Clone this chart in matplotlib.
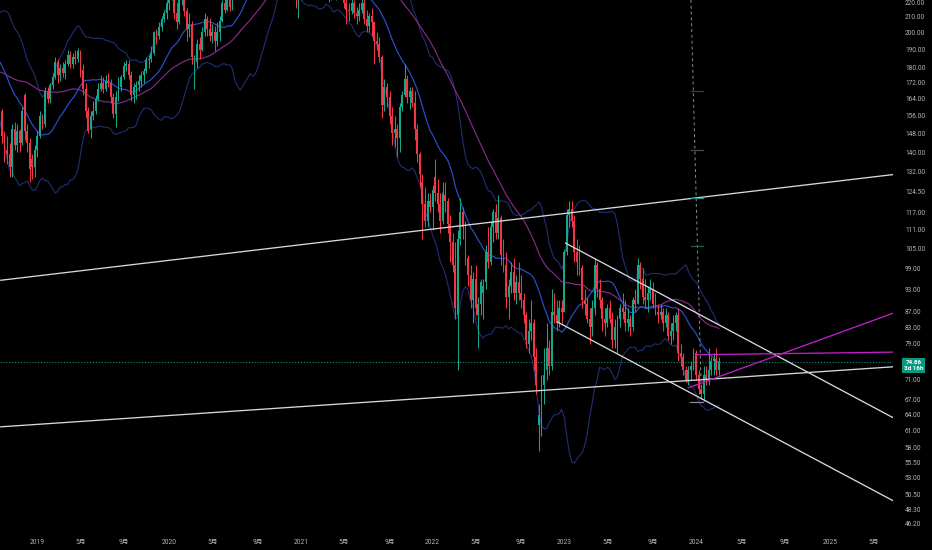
import numpy as np
import pandas as pd
import matplotlib
matplotlib.use("Agg")
import matplotlib.pyplot as plt
import matplotlib.dates as mdates
from matplotlib.ticker import FixedLocator, NullLocator, FuncFormatter
from matplotlib.transforms import blended_transform_factory, offset_copy

plt.rcParams['font.family'] = ['Roboto', 'Noto Sans CJK SC', 'DejaVu Sans']

# ---------------- data (weekly candles, Sep 2018 .. Mar 2024) ----------------
# weekly closes before the visible window (used only for the moving averages)
pre_closes = [166, 162, 163, 166, 170, 170, 172, 176, 178, 177, 180, 170, 164, 165, 164, 162,
              174, 175, 182, 193, 180, 168, 177, 178, 175, 183, 181, 177, 173, 168, 170, 168,
              162, 170, 190, 196, 200, 199, 205, 205, 196, 185, 186, 190, 190, 189, 180, 176,
              172, 177, 175, 165]

opens = [
    # 2018
    157, 160, 165, 158, 147, 141, 139, 134, 150, 143, 149, 144, 166, 149, 144, 137, 134,
    # 2019
    141, 147, 156, 152, 168, 164, 171, 175, 183, 176, 180, 177, 182, 187, 182, 186, 185,
    189, 179, 169, 158, 150, 156, 158, 164, 169, 172, 169, 173, 172, 165, 157, 165, 170,
    175, 181, 182, 176, 166, 170, 171, 173, 176, 178, 184, 185, 188, 200, 198, 203, 208, 212,
    # 2020
    218, 222, 226, 212, 206, 220, 222, 213, 202, 205, 178, 183, 193, 190, 200, 208, 202,
    198, 200, 195, 200, 207, 218, 214, 222, 216, 236, 256, 250, 253, 251, 258, 255, 266, 288,
    272, 268, 262, 278, 294, 300, 308, 300, 305, 285, 260, 262, 275, 262, 255, 256, 222,
    # 2021
    232, 228, 240, 258, 254, 272, 262, 258, 238, 235, 238, 230, 226, 230, 225, 240, 235,
    231, 218, 214, 213, 218, 212, 210, 214, 218, 208, 204, 210, 206, 195, 193, 186, 161, 170,
    165, 156, 148, 150, 146, 160, 166, 174, 165, 168, 162, 150, 139, 128, 120, 114, 121,
    # 2022
    119, 130, 124, 120, 114, 123, 121, 113, 107, 100, 86, 108, 117, 112, 102, 97, 90,
    96, 86, 89, 92, 95, 104, 101, 112, 117, 110, 115, 103, 100, 91, 94, 98, 92, 95,
    92, 90, 86, 79, 82, 84, 76, 62, 64, 70, 73, 78, 74, 87, 86, 84, 88,
    # 2023
    87, 104, 116, 118, 114, 104, 101, 99, 90, 89, 85, 83, 88, 100, 93, 90, 85,
    84, 88, 85, 80, 83, 85, 88, 87, 84, 85, 83, 90, 89, 100, 96, 91, 90, 92,
    93, 89, 87, 86, 87, 84, 86, 81, 82, 84, 86, 77, 76, 73, 71, 73, 74,
    # 2024
    77, 72, 69, 68, 72, 71, 73, 75, 75.5, 73]

highs = [
    # 2018
    163, 168, 166, 159, 149, 147, 144, 152, 153, 152, 150, 160, 167, 152, 146, 139, 143,
    # 2019
    149, 158, 157, 170, 170, 172, 177, 186, 185, 182, 183, 184, 190, 189, 188, 190, 191,
    190, 182, 172, 160, 158, 163, 166, 172, 176, 175, 176, 177, 174, 167, 168, 175, 176,
    183, 184, 184, 178, 172, 173, 176, 178, 180, 186, 187, 192, 201, 202, 206, 210, 214, 220,
    # 2020
    224, 231, 227, 218, 222, 228, 225, 215, 212, 207, 187, 196, 197, 203, 212, 210, 209,
    205, 204, 206, 210, 220, 223, 228, 225, 240, 262, 260, 262, 262, 260, 262, 268, 295, 293,
    278, 275, 282, 298, 304, 310, 312, 319, 306, 290, 270, 277, 278, 265, 260, 257, 240,
    # 2021
    236, 245, 265, 265, 275, 275, 268, 260, 245, 242, 243, 235, 232, 232, 245, 242, 238,
    232, 222, 218, 222, 220, 216, 218, 222, 222, 214, 212, 215, 207, 200, 197, 187, 174, 172,
    168, 160, 156, 152, 162, 168, 182, 176, 170, 170, 168, 152, 140, 131, 126, 124, 124,
    # 2022
    127, 137, 129, 124, 128, 128, 122, 116, 110, 107, 111, 122, 119, 114, 103, 100, 98,
    100, 91, 96, 96, 106, 112, 114, 118, 120, 123, 116, 108, 104, 96, 101, 102, 97, 101,
    97, 92, 87, 85, 90, 85, 78, 66, 72, 78, 84, 80, 93, 92, 90, 90, 90,
    # 2023
    105, 118, 121, 121, 116, 108, 106, 100, 93, 91, 88, 90, 102, 101, 96, 91, 88,
    89, 90, 87, 85, 86, 89, 92, 90, 88, 86, 91, 93, 102, 101, 99, 96, 94, 96,
    95, 92, 89, 89, 88, 88, 87, 84, 86, 87, 88, 79, 77, 74, 74, 75, 78,
    # 2024
    77.5, 73, 70, 74, 74, 78, 76, 77, 78, 76]

lows = [
    # 2018
    153, 157, 156, 144, 136, 135, 130, 130, 141, 140, 140, 143, 145, 140, 128, 129, 130,
    # 2019
    138, 146, 150, 151, 162, 162, 169, 174, 172, 173, 175, 174, 181, 180, 180, 182, 183,
    175, 166, 155, 148, 146, 154, 157, 163, 168, 167, 168, 170, 162, 155, 151, 163, 168,
    174, 178, 174, 163, 162, 164, 168, 170, 172, 177, 180, 183, 187, 193, 196, 201, 206, 208,
    # 2020
    214, 220, 208, 202, 205, 217, 210, 195, 197, 182, 169, 180, 185, 189, 198, 198, 195,
    194, 189, 192, 195, 206, 212, 213, 213, 214, 235, 245, 246, 246, 248, 250, 252, 264, 270,
    262, 260, 258, 276, 290, 296, 295, 290, 275, 255, 255, 260, 258, 250, 252, 215, 209,
    # 2021
    220, 226, 238, 245, 252, 260, 250, 232, 225, 222, 225, 219, 220, 221, 220, 230, 228,
    215, 205, 207, 211, 209, 205, 207, 212, 205, 200, 200, 198, 182, 190, 183, 155, 158, 160,
    152, 143, 142, 138, 140, 158, 165, 162, 159, 160, 145, 136, 126, 108, 112, 112, 117,
    # 2022
    111, 121, 117, 110, 113, 117, 110, 101, 98, 85, 73, 106, 108, 100, 94, 88, 84,
    86, 78, 86, 85, 93, 99, 100, 107, 108, 108, 100, 98, 88, 85, 92, 90, 89, 90,
    88, 84, 78, 77, 80, 73, 68, 57.5, 60, 66, 71, 72, 73, 84, 82, 83, 84,
    # 2023
    87, 103, 112, 112, 101, 97, 97, 88, 86, 84, 79, 81, 86, 91, 88, 82, 81,
    83, 84, 78, 78, 77, 83, 85, 82, 82, 81, 82, 87, 89, 93, 89, 88, 87, 90,
    88, 86, 84, 85, 82, 83, 80, 79, 80, 82, 75, 74, 72, 70.5, 70, 71, 73,
    # 2024
    71, 68, 67, 66.6, 70, 70, 72, 72, 72, 72]

closes = [
    # 2018
    160, 165, 158, 147, 141, 139, 134, 150, 143, 149, 144, 158, 149, 144, 133, 134, 141,
    # 2019
    147, 156, 152, 168, 164, 171, 175, 183, 176, 180, 177, 182, 187, 182, 186, 185, 189,
    179, 169, 158, 149, 156, 158, 164, 169, 172, 169, 173, 172, 165, 157, 165, 170, 175,
    181, 182, 176, 166, 170, 171, 173, 176, 178, 184, 185, 188, 200, 198, 203, 208, 212, 218,
    # 2020
    222, 226, 212, 206, 220, 222, 213, 202, 205, 186, 183, 193, 190, 200, 208, 202, 198,
    200, 195, 200, 207, 218, 214, 222, 216, 236, 256, 250, 253, 251, 258, 255, 266, 288, 272,
    268, 262, 278, 294, 300, 308, 300, 305, 285, 260, 262, 275, 262, 255, 256, 222, 232,
    # 2021
    228, 240, 258, 254, 272, 262, 258, 238, 235, 238, 230, 226, 230, 225, 240, 235, 231,
    218, 214, 213, 218, 212, 210, 214, 218, 208, 204, 210, 206, 195, 193, 186, 161, 170, 165,
    156, 148, 150, 146, 160, 166, 174, 165, 168, 162, 150, 139, 131, 120, 114, 121, 119,
    # 2022
    125, 124, 120, 114, 124, 121, 113, 107, 100, 88, 108, 117, 112, 102, 97, 90, 96,
    88, 89, 95, 94, 104, 101, 112, 117, 110, 115, 103, 100, 91, 94, 98, 92, 95, 92,
    90, 86, 80, 82, 84, 76, 70, 64, 69, 72, 78, 74, 87, 86, 84, 88, 87,
    # 2023
    104, 116, 118, 114, 104, 101, 99, 90, 89, 85, 83, 88, 100, 93, 90, 85, 84,
    88, 85, 80, 83, 85, 88, 87, 84, 85, 83, 90, 89, 100, 96, 91, 90, 92, 93,
    89, 87, 86, 87, 84, 86, 81, 82, 84, 86, 77, 76, 73, 71, 73, 74, 77,
    # 2024
    72, 69, 68, 72, 71, 73, 75, 75.5, 73, 74.86]

last_bar = '2024-03-04'
countdown = '3d 16h'

# axis labels
price_ticks = [46.2, 48.3, 50.5, 53, 55.5, 58, 61, 64, 67, 71, 79, 83, 87, 93, 99, 105,
               111, 117, 124.5, 132, 140, 148, 156, 164, 172, 180, 190, 200, 210, 220]
xtick_dates = ['2019-01-07', '2019-05-06', '2019-09-02', '2020-01-06', '2020-05-04',
               '2020-09-07', '2021-01-04', '2021-05-03', '2021-09-06', '2022-01-03',
               '2022-05-02', '2022-09-05', '2023-01-02', '2023-05-01', '2023-09-04',
               '2024-01-01', '2024-05-06', '2024-09-02', '2025-01-06', '2025-05-05']
xtick_labels = ['2019', '5月', '9月', '2020', '5月', '9月', '2021', '5月', '9月', '2022',
                '5月', '9月', '2023', '5月', '9月', '2024', '5月', '9月', '2025', '5月']

# drawings (anchor dates / prices)
long_upper_dates = ['2018-09-26', '2025-06-29']
long_upper_prices = [95.5, 130.9]
long_lower_dates = ['2018-09-26', '2025-06-29']
long_lower_prices = [61.7, 73.8]
chan_upper_dates = ['2023-01-04', '2025-06-29']
chan_upper_prices = [106.8, 63.4]
chan_lower_dates = ['2022-12-13', '2025-06-29']
chan_lower_prices = [84.4, 49.5]
mag_flat_dates = ['2024-01-01', '2025-06-29']
mag_flat_prices = [76.5, 77.1]
mag_rise_dates = ['2023-12-10', '2025-06-29']
mag_rise_prices = [69.3, 86.6]
proj_dates = ['2023-12-18', '2024-01-16']
proj_prices = [220.3, 67.4]
proj_tick_prices = [168.0, 140.9, 122.1, 105.8]
proj_tick_colors = ['#6e2a2e', '#4a4c52', '#1f8f80', '#1d5e52']
proj_tick_span = ['2023-12-18', '2024-01-20']
low_mark_price = 66.5
low_mark_span = ['2023-12-15', '2024-01-20']

# ---------------- figure ----------------
W, H = 932, 550
fig = plt.figure(figsize=(W / 100, H / 100), dpi=100, facecolor='black')
ax = fig.add_axes([0, 18 / H, 893 / W, 532 / H], facecolor='black')

UP, DN = '#16a68c', '#f23645'

dates = pd.date_range(end=last_bar, periods=len(closes), freq='W-MON')
pre_dates = pd.date_range(end=dates[0] - pd.Timedelta(days=7), periods=len(pre_closes), freq='W-MON')
all_close = pd.Series(pre_closes + closes, index=pre_dates.append(dates), dtype=float)
basis = all_close.rolling(20).mean()
sd = all_close.rolling(20).std(ddof=0)
bb_up = basis + 2 * sd
bb_dn = basis - 2 * sd
ma50 = all_close.rolling(50).mean()
xi = mdates.date2num(all_close.index)

ax.plot(xi, bb_up, color='#1f2c6e', lw=0.85, zorder=2)
ax.plot(xi, bb_dn, color='#1f2c6e', lw=0.85, zorder=2)
ax.plot(xi, ma50, color='#86298c', lw=0.85, zorder=2)
ax.plot(xi, basis, color='#2a4fd0', lw=0.85, zorder=2)

o = np.array(opens, float); h = np.array(highs, float)
l = np.array(lows, float); c = np.array(closes, float)
xd = mdates.date2num(dates)
cols = np.where(c >= o, UP, DN)
ax.vlines(xd, l, h, colors=cols, lw=0.75, zorder=3)
ax.bar(xd, np.maximum(np.abs(c - o), 0.25), bottom=np.minimum(o, c), width=5.3,
       color=cols, linewidth=0, zorder=4)

# current price dotted line
ax.axhline(c[-1], color='#1a8a78', lw=0.8, ls=(0, (1, 1.6)), zorder=5)

def seg(ds, ps, **kw):
    ax.plot(mdates.date2num(pd.to_datetime(ds)), ps, **kw)

line_kw = dict(color='#d6d8de', lw=0.95, zorder=6, solid_capstyle='butt')
seg(long_upper_dates, long_upper_prices, **line_kw)
seg(long_lower_dates, long_lower_prices, **line_kw)
seg(chan_upper_dates, chan_upper_prices, **line_kw)
seg(chan_lower_dates, chan_lower_prices, **line_kw)
seg(mag_flat_dates, mag_flat_prices, color='#c21ec4', lw=0.95, zorder=6)
seg(mag_rise_dates, mag_rise_prices, color='#c21ec4', lw=0.95, zorder=6)
seg(proj_dates, proj_prices, color='#8a8d95', lw=0.7, ls=(0, (3, 3)), zorder=6)
for p, col in zip(proj_tick_prices, proj_tick_colors):
    seg(proj_tick_span, [p, p], color=col, lw=0.9, zorder=6)
seg(low_mark_span, [low_mark_price, low_mark_price], color='#8a8d95', lw=0.9, zorder=6)

# axes styling
anchor = mdates.date2num(pd.Timestamp('2024-01-01'))
dpp = 7 / 2.533
ax.set_xlim(anchor - 696 * dpp, anchor + 197 * dpp)
ax.set_yscale('log')
ax.set_ylim(45.1, 220.26)
for s in ax.spines.values():
    s.set_visible(False)
ax.yaxis.set_major_locator(FixedLocator(price_ticks))
ax.yaxis.set_minor_locator(NullLocator())
ax.yaxis.set_major_formatter(FuncFormatter(lambda v, p: f'{v:.2f}'))
ax.yaxis.tick_right()
ax.tick_params(axis='y', length=0, pad=8.6, labelsize=4.7, labelcolor='#b2b5be')
ax.set_xticks(mdates.date2num(pd.to_datetime(xtick_dates)))
ax.set_xticklabels(xtick_labels)
ax.xaxis.set_minor_locator(NullLocator())
ax.tick_params(axis='x', length=0, pad=5, labelsize=4.8, labelcolor='#b2b5be')
# keep the top price label inside the picture
ax.yaxis.get_major_ticks()[-1].label2.set_verticalalignment('top')

# last price label
tr = blended_transform_factory(fig.transFigure, ax.transData)
fig.text(913.5 / W, c[-1], f'{c[-1]:.2f}\n{countdown}',
         transform=offset_copy(tr, fig=fig, y=-3.5, units='dots'),
         ha='center', va='center', fontsize=4.5, color='white', fontweight='bold',
         linespacing=1.15, zorder=10,
         bbox=dict(boxstyle='square,pad=0.35', fc='#089981', ec='none'))

fig.savefig('out.png', dpi=100, facecolor='black')
